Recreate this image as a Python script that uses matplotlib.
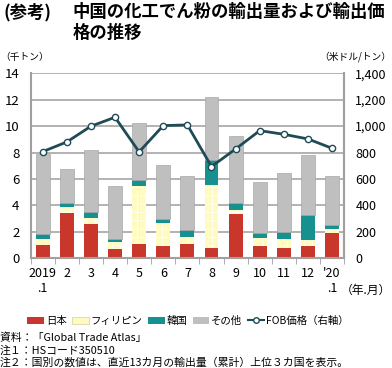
import numpy as np
import matplotlib
matplotlib.use("Agg")
import matplotlib.pyplot as plt
from matplotlib.patches import Patch
from matplotlib.lines import Line2D

plt.rcParams['font.family'] = ['Noto Sans CJK JP', 'DejaVu Sans']
plt.rcParams['hatch.color'] = 'white'
plt.rcParams['hatch.linewidth'] = 0.5

# データ（千トン、米ドル/トン）
months = ["2019\n.1", "2", "3", "4", "5", "6", "7", "8", "9", "10", "11", "12", "'20\n.1"]
japan = [1.0, 3.4, 2.6, 0.7, 1.1, 0.9, 1.05, 0.75, 3.35, 0.95, 0.75, 0.95, 1.9]
philippines = [0.45, 0.45, 0.45, 0.5, 4.4, 1.75, 0.55, 4.8, 0.3, 0.6, 0.75, 0.4, 0.35]
korea = [0.4, 0.35, 0.45, 0.25, 0.4, 0.35, 0.55, 1.9, 0.5, 0.4, 0.5, 1.9, 0.25]
others = [6.05, 2.55, 4.7, 4.0, 4.3, 4.05, 4.1, 4.75, 5.1, 3.8, 4.45, 4.55, 3.75]
fob = [807, 880, 999, 1067, 805, 1004, 1009, 694, 827, 966, 938, 903, 832]

c_jp = '#C9372C'
c_ph = '#FFFBC0'
c_kr = '#17918F'
c_ot = '#BFBFBF'
c_line = '#1F4B57'

fig = plt.figure(figsize=(3.92, 3.68), dpi=100)
ax = fig.add_axes([0.078, 0.298, 0.800, 0.503])
x = np.arange(len(months))
w = 0.58

b1 = np.array(japan)
b2 = b1 + np.array(philippines)
b3 = b2 + np.array(korea)
ax.bar(x, japan, w, color=c_jp, zorder=2)
ax.bar(x, philippines, w, bottom=b1, color=c_ph, hatch='++', edgecolor='white', linewidth=0, zorder=2)
ax.bar(x, korea, w, bottom=b2, color=c_kr, zorder=2)
ax.bar(x, others, w, bottom=b3, color=c_ot, edgecolor='#A8A8A8', linewidth=0.5, zorder=2)

ax.set_ylim(0, 14)
ax.set_yticks(np.arange(0, 15, 2))
ax.set_xlim(-0.5, len(months) - 0.5)
ax.set_xticks(x)
ax.set_xticklabels(months, fontsize=9)
ax.set_xticks(np.arange(-0.5, len(months), 1), minor=True)
ax.tick_params(axis='x', which='major', length=0, pad=6)
ax.tick_params(axis='x', which='minor', length=4, color='#A0A0A0', direction='out')
ax.tick_params(axis='y', length=0, labelsize=9.5, pad=8)
ax.grid(axis='y', color='#A6A6A6', linewidth=1.2, zorder=0)
ax.set_axisbelow(True)
ax.spines['top'].set_visible(False)
for s in ['left', 'right', 'bottom']:
    ax.spines[s].set_color('#A0A0A0')
    ax.spines[s].set_linewidth(1.5)

ax2 = ax.twinx()
ax2.plot(x, fob, color=c_line, lw=2, marker='o', markersize=4.5,
         markerfacecolor='white', markeredgecolor=c_line, markeredgewidth=1, zorder=3)
ax2.set_ylim(0, 1400)
ax2.set_yticks(np.arange(0, 1401, 200))
ax2.set_yticklabels([f"{v:,}" for v in range(0, 1401, 200)])
ax2.tick_params(axis='y', length=0, labelsize=9, pad=8)
for s in ['top', 'left', 'bottom']:
    ax2.spines[s].set_visible(False)
ax2.spines['right'].set_color('#A0A0A0')
ax2.spines['right'].set_linewidth(1.5)

# タイトル・単位
fig.text(0.008, 0.967, "(参考)", fontsize=12.5, fontweight='bold', va='center')
fig.text(0.186, 0.967, "中国の化工でん粉の輸出量および輸出価", fontsize=12.5, fontweight='bold', va='center')
fig.text(0.186, 0.91, "格の推移", fontsize=12.5, fontweight='bold', va='center')
fig.text(0.0, 0.845, "（千トン）", fontsize=7, va='center')
fig.text(0.997, 0.845, "（米ドル/トン）", fontsize=7, va='center', ha='right')
fig.text(0.997, 0.212, "（年.月）", fontsize=8.5, va='center', ha='right')

handles = [Patch(facecolor=c_jp), Patch(facecolor=c_ph, edgecolor='#D8D0A0', linewidth=0.5),
           Patch(facecolor=c_kr), Patch(facecolor=c_ot),
           Line2D([], [], color=c_line, lw=1.5, marker='o', markersize=4,
                  markerfacecolor='white', markeredgecolor=c_line)]
labels = ["日本", "フィリピン", "韓国", "その他", "FOB価格（右軸）"]
fig.legend(handles, labels, loc='center', bbox_to_anchor=(0.48, 0.128), ncol=5,
           frameon=False, fontsize=7.5, handlelength=1.6, handleheight=0.6,
           handletextpad=0.2, columnspacing=0.5)

fig.text(0.0, 0.082, "資料：「Global Trade Atlas」", fontsize=7.8, va='center')
fig.text(0.0, 0.048, "注１：HSコード350510", fontsize=7.8, va='center')
fig.text(0.0, 0.016, "注２：国別の数値は、直近13カ月の輸出量（累計）上位３カ国を表示。", fontsize=7.8, va='center')

fig.savefig("out.png", dpi=100)
